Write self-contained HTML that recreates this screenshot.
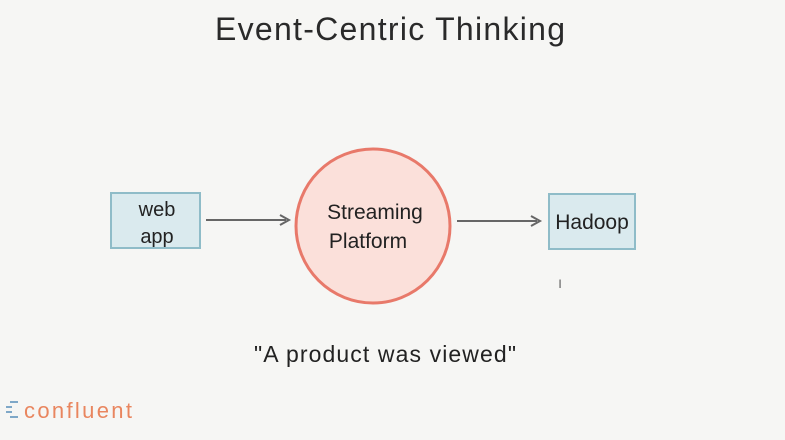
<!DOCTYPE html>
<html><head><style>
body{margin:0;width:785px;height:435px;background:#f6f6f4;overflow:hidden;font-family:"Liberation Sans",sans-serif;}
</style></head><body>
<svg width="785" height="435" xmlns="http://www.w3.org/2000/svg">
<rect width="785" height="435" fill="#f6f6f4"/>
<text x="390" y="40" text-anchor="middle" font-family="Liberation Sans, sans-serif" font-size="32" fill="#2a2a2a" textLength="350">Event-Centric Thinking</text>
<rect x="111" y="193" width="89" height="55" fill="#daeaee" stroke="#8fbcc8" stroke-width="2"/>
<text x="157" y="216" text-anchor="middle" font-size="20" fill="#222">web</text>
<text x="157" y="243" text-anchor="middle" font-size="20" fill="#222">app</text>
<line x1="206" y1="220" x2="286" y2="220" stroke="#666" stroke-width="2"/>
<path d="M280 215 L289 220 L280 225" fill="none" stroke="#666" stroke-width="2"/>
<circle cx="373" cy="226" r="77" fill="#fbe0da" stroke="#e8796a" stroke-width="3"/>
<text x="375" y="219" text-anchor="middle" font-size="21" fill="#222">Streaming</text>
<text x="368" y="248" text-anchor="middle" font-size="21" fill="#222">Platform</text>
<line x1="457" y1="221" x2="537" y2="221" stroke="#666" stroke-width="2"/>
<path d="M531 216 L540 221 L531 226" fill="none" stroke="#666" stroke-width="2"/>
<rect x="549" y="194" width="86" height="55" fill="#daeaee" stroke="#8fbcc8" stroke-width="2"/>
<text x="592" y="229" text-anchor="middle" font-size="21" fill="#222">Hadoop</text>
<text x="560" y="288" text-anchor="middle" font-size="12" fill="#555">I</text>
<text x="385" y="362" text-anchor="middle" font-size="23" fill="#222" textLength="262">"A product was viewed"</text>
<g fill="#7fa8c8"><rect x="10" y="401" width="8" height="2"/><rect x="6" y="406" width="6" height="2"/><rect x="6" y="411" width="6" height="2"/><rect x="10" y="416" width="8" height="2"/></g>
<text x="24" y="418" font-size="22" fill="#e9865f" textLength="108">confluent</text>
</svg>
</body></html>
